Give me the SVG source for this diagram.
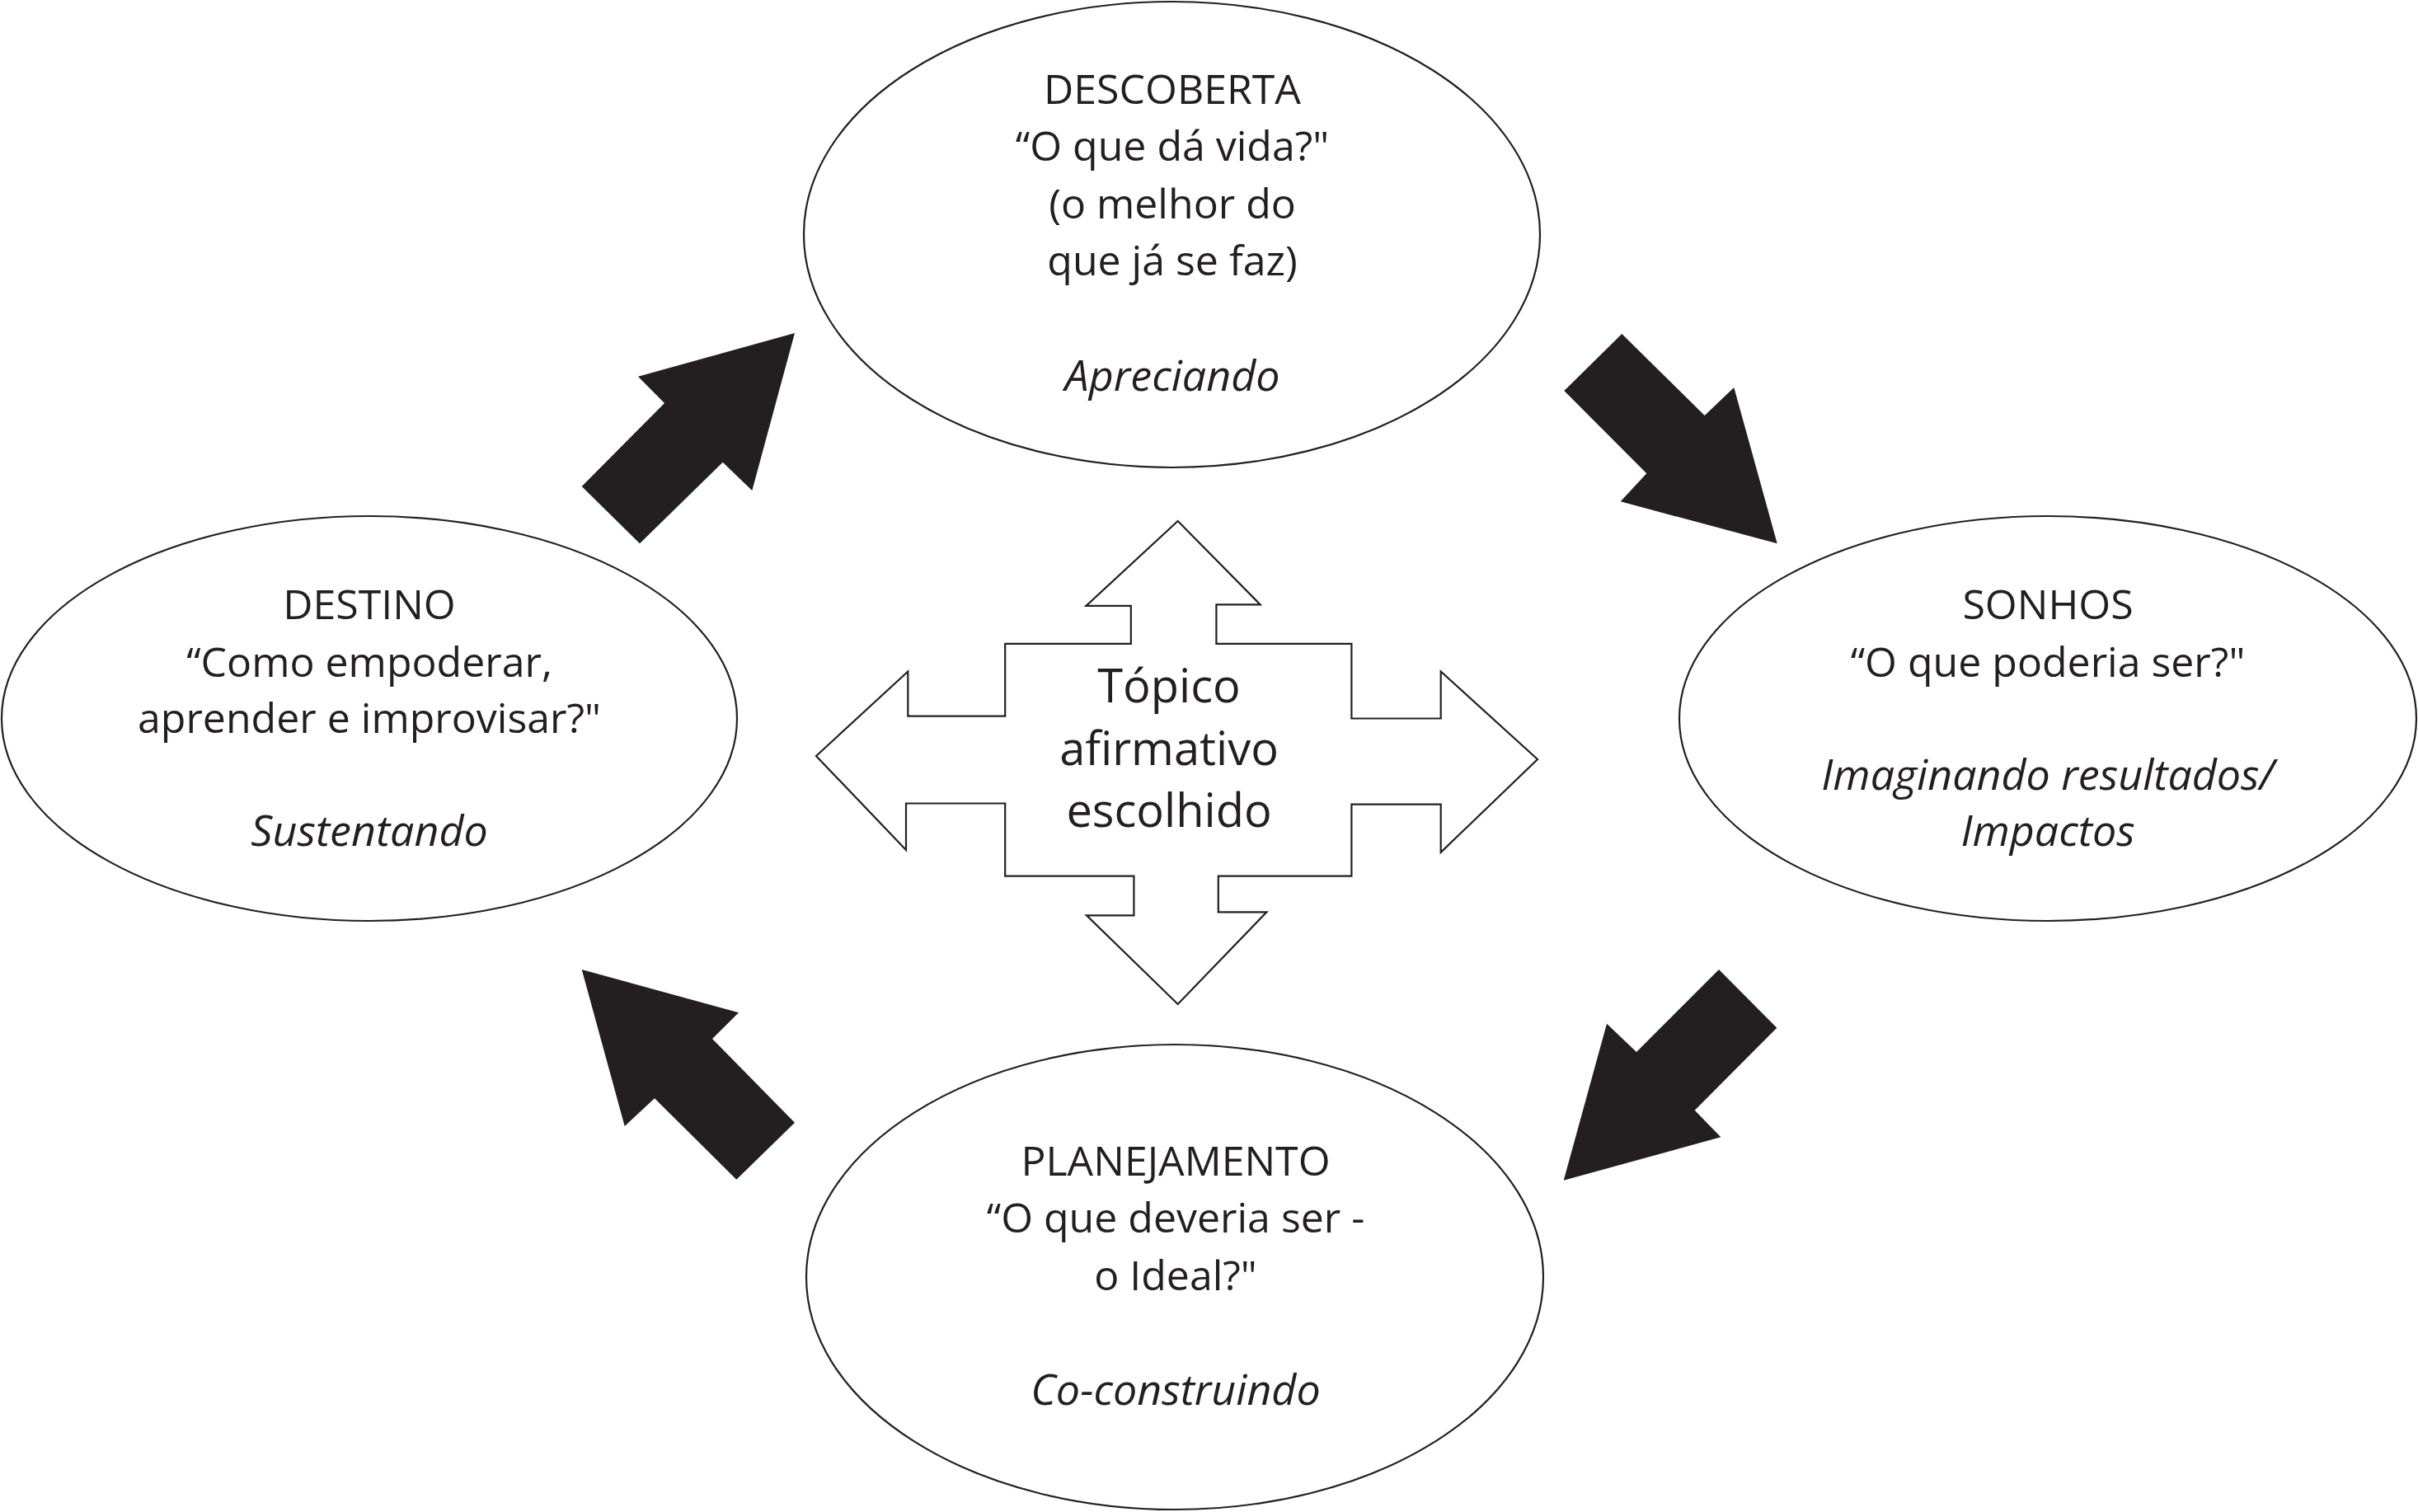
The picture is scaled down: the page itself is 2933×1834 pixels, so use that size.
<svg xmlns="http://www.w3.org/2000/svg" width="2933" height="1834" viewBox="0 0 2933 1834">
<style>
.bg{fill:#ffffff}
.node{fill:#ffffff;stroke:#231f20;stroke-width:2.2}
.t{font-family:"Open Sans","Noto Sans","Liberation Sans",sans-serif;font-size:50px;fill:#231f20;text-anchor:middle}
.i{font-style:italic;font-size:52px}
.c{font-size:56px}
.arr{fill:#231f20;stroke:none}
</style>
<rect class="bg" x="0" y="0" width="2933" height="1834"/>
<g id="connectors">
<polygon class="arr" points="964,404 912.3,595 876.7,560.7 776,659.3 705.7,590 806,489 774,456.7"/>
<polygon class="arr" points="1967.3,405 2067.7,504 2103.3,470 2155.7,659.3 1965.7,608.3 1997.3,574.3 1897.3,474"/>
<polygon class="arr" points="2085,1176 2155.3,1246.7 2055.7,1346.7 2087.3,1379.3 1896.7,1431.7 1949,1241.7 1985,1276"/>
<polygon class="arr" points="705.7,1176 896,1228.3 864,1260 964,1361.7 893.3,1430.7 794,1332.3 757.7,1366"/>
</g>
<g id="descoberta">
<ellipse class="node" cx="1421.5" cy="284.5" rx="446.5" ry="282.5"/>
<text class="t" x="1422" y="126">DESCOBERTA</text>
<text class="t" x="1422" y="195">“O que dá vida?"</text>
<text class="t" x="1422" y="265">(o melhor do</text>
<text class="t" x="1422" y="334">que já se faz)</text>
<text class="t i" x="1422" y="474">Apreciando</text>
</g>
<g id="sonhos">
<ellipse class="node" cx="2484" cy="871.5" rx="447" ry="245.5"/>
<text class="t" x="2484" y="751">SONHOS</text>
<text class="t" x="2484" y="821">“O que poderia ser?"</text>
<text class="t i" x="2484" y="958">Imaginando resultados/</text>
<text class="t i" x="2484" y="1026">Impactos</text>
</g>
<g id="planejamento">
<ellipse class="node" cx="1425" cy="1549" rx="447" ry="282"/>
<text class="t" x="1426" y="1426">PLANEJAMENTO</text>
<text class="t" x="1426" y="1495">“O que deveria ser -</text>
<text class="t" x="1426" y="1565">o Ideal?"</text>
<text class="t i" x="1426" y="1704">Co-construindo</text>
</g>
<g id="destino">
<ellipse class="node" cx="448" cy="871.5" rx="446" ry="245.5"/>
<text class="t" x="448" y="751">DESTINO</text>
<text class="t" x="448" y="821">“Como empoderar,</text>
<text class="t" x="448" y="889">aprender e improvisar?"</text>
<text class="t i" x="448" y="1026">Sustentando</text>
</g>
<g id="topico">
<polygon class="node" points="1428.7,632 1528.7,733.4 1475.4,733.4 1475.4,780.9 1639.4,780.9 1639.4,871.5 1747.7,871.5 1747.7,814.5 1865,921 1747.7,1033.8 1747.7,975.7 1639.4,975.7 1639.4,1062.7 1477.8,1062.7 1477.8,1106.3 1536.4,1106.3 1428.7,1218 1318,1110.3 1375.4,1110.3 1375.4,1062.7 1219.2,1062.7 1219.2,974.5 1099,974.5 1099,1031 990,917 1101.3,814.5 1101.3,868.7 1219.2,868.7 1219.2,780.9 1371.8,780.9 1371.8,734.9 1317.4,734.9"/>
<text class="t c" x="1418" y="852">Tópico</text>
<text class="t c" x="1418" y="928">afirmativo</text>
<text class="t c" x="1418" y="1003">escolhido</text>
</g>
</svg>
